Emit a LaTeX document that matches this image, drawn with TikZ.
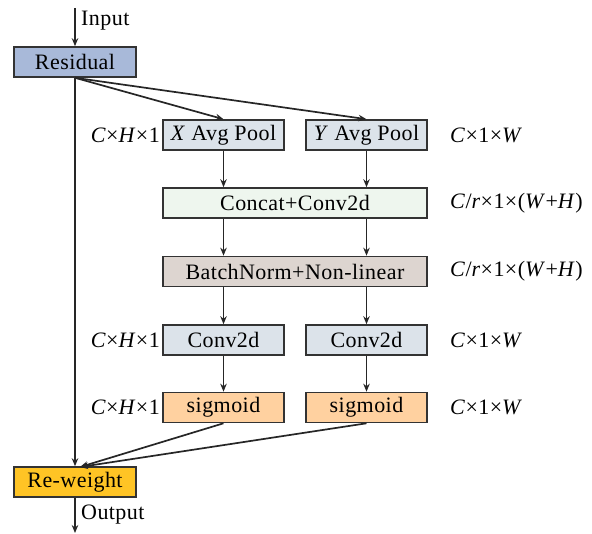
\documentclass[tikz,border=0pt]{standalone}
\usepackage{fontspec}
\setmainfont{Liberation Serif}[LetterSpace=2]
\usetikzlibrary{positioning,arrows.meta,calc}
\definecolor{resblue}{HTML}{A8B9D9}
\definecolor{poolgrey}{HTML}{DCE3EA}
\definecolor{catgreen}{HTML}{EEF6EE}
\definecolor{bnbrown}{HTML}{DDD5D0}
\definecolor{sigorange}{HTML}{FFD1A0}
\definecolor{rwyellow}{HTML}{FFC425}
\newcommand{\shp}[3]{\textit{#1}×\textit{#2}×#3}
\tikzset{
    block/.style={
        draw=black!80,
        line width=1.6pt,
        minimum height=30pt,
        inner sep=0pt
    },
    small block/.style={block, minimum width=121pt},
    wide block/.style={block, minimum width=264pt},
    flow/.style={
        line width=1.7pt,
        black!85,
        -{Stealth[length=8pt,width=6.5pt]}
    },
    dimlabel/.style={inner sep=0pt}
}

\begin{document}
\begin{tikzpicture}[x=1pt,y=-1pt,font=\fontsize{22}{25}\selectfont]
                \useasboundingbox (0,0) rectangle (592,534);
                \coordinate (in) at (75,8);
                \coordinate (out) at (75,533);
                \coordinate (rwin) at (80,467);
                \node[block, fill=resblue, minimum width=122pt] (residual) at (75,62) {Residual};
                \node[small block, fill=poolgrey] (xpool) at (223.5,135) {\textit{X} Avg Pool};
                \node[small block, fill=poolgrey] (ypool) at (366.5,135) {\textit{Y} Avg Pool};
                \node[wide block, fill=catgreen] (concat) at (295,203) {Concat+Conv2d};
                \node[wide block, fill=bnbrown] (bnorm) at (295,271.5) {BatchNorm+Non-linear};
                \node[small block, fill=poolgrey] (convx) at (223.5,340) {Conv2d};
                \node[small block, fill=poolgrey] (convy) at (366.5,340) {Conv2d};
                \node[small block, fill=sigorange] (sigx) at (223.5,407.5) {sigmoid};
                \node[small block, fill=sigorange] (sigy) at (366.5,407.5) {sigmoid};
                \node[block, fill=rwyellow, minimum width=122pt] (reweight) at (75,482) {Re-weight};
                % shapes of the feature maps
                \node[dimlabel, anchor=east] (dxpool) at (160,135) {\shp{C}{H}{1}};
                \node[dimlabel, anchor=east] (dconvx) at (160,340) {\shp{C}{H}{1}};
                \node[dimlabel, anchor=east] (dsigx) at (160,407.5) {\shp{C}{H}{1}};
                \node[dimlabel, anchor=west] (dypool) at (450,135) {\textit{C}×1×\textit{W}};
                \node[dimlabel, anchor=west] (dconvy) at (450,340) {\textit{C}×1×\textit{W}};
                \node[dimlabel, anchor=west] (dsigy) at (450,407.5) {\textit{C}×1×\textit{W}};
                \node[dimlabel, anchor=west] (dconcat) at (450,203) {\textit{C}/\textit{r}×1×(\textit{W}+\textit{H})};
                \node[dimlabel, anchor=west] (dbnorm) at (450,271.5) {\textit{C}/\textit{r}×1×(\textit{W}+\textit{H})};
                \node[dimlabel, anchor=west] (tin) at (81,21) {Input};
                \node[dimlabel, anchor=west] (tout) at (81,515) {Output};
                % connectors
                \draw[flow] (in) -- (residual.north);
                \draw[flow] (residual.south) -- (xpool.north);
                \draw[flow] (residual.south) -- (ypool.north);
                \draw[flow] (residual.south) -- (reweight.north);
                \draw[flow] (xpool) -- (xpool|-concat.north);
                \draw[flow] (ypool) -- (ypool|-concat.north);
                \draw[flow] (xpool|-concat.south) -- (xpool|-bnorm.north);
                \draw[flow] (ypool|-concat.south) -- (ypool|-bnorm.north);
                \draw[flow] (convx|-bnorm.south) -- (convx.north);
                \draw[flow] (convy|-bnorm.south) -- (convy.north);
                \draw[flow] (convx) -- (sigx);
                \draw[flow] (convy) -- (sigy);
                \draw[flow] (sigx.south) -- (rwin);
                \draw[flow] (sigy.south) -- (rwin);
                \draw[flow] (reweight.south) -- (out);
            \end{tikzpicture}
\end{document}
